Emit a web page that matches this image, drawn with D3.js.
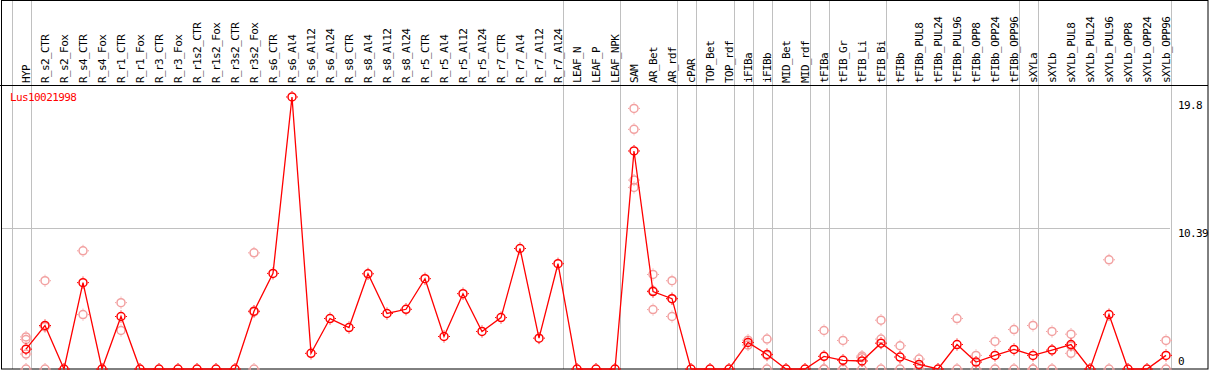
<!DOCTYPE html>
<html><head><meta charset="utf-8">
<script src="https://cdn.jsdelivr.net/npm/d3@7"></script>
<style>body{margin:0;background:#fff}svg{display:block}text{font-family:"DejaVu Sans Mono",monospace;font-size:11px;letter-spacing:-0.6px}</style>
</head><body>
<script>
const title = "Lus10021998";
const categories = ["HYP","R_s2_CTR","R_s2_Fox","R_s4_CTR","R_s4_Fox","R_r1_CTR","R_r1_Fox","R_r3_CTR","R_r3_Fox","R_r1s2_CTR","R_r1s2_Fox","R_r3s2_CTR","R_r3s2_Fox","R_s6_CTR","R_s6_Al4","R_s6_Al12","R_s6_Al24","R_s8_CTR","R_s8_Al4","R_s8_Al12","R_s8_Al24","R_r5_CTR","R_r5_Al4","R_r5_Al12","R_r5_Al24","R_r7_CTR","R_r7_Al4","R_r7_Al12","R_r7_Al24","LEAF_N","LEAF_P","LEAF_NPK","SAM","AR_Bet","AR_rdf","cPAR","TOP_Bet","TOP_rdf","iFIBa","iFIBb","MID_Bet","MID_rdf","tFIBa","tFIB_Gr","tFIB_Li","tFIB_Bi","tFIBb","tFIBb_PUL8","tFIBb_PUL24","tFIBb_PUL96","tFIBb_OPP8","tFIBb_OPP24","tFIBb_OPP96","sXYLa","sXYLb","sXYLb_PUL8","sXYLb_PUL24","sXYLb_PUL96","sXYLb_OPP8","sXYLb_OPP24","sXYLb_OPP96"];
const means = [1.46,3.2,0,6.35,0,3.86,0,0,0,0,0,0,4.25,7.03,20.0,1.15,3.71,3.05,7.0,4.08,4.39,6.64,2.39,5.54,2.76,3.78,8.86,2.27,7.74,0,0,0,16.03,5.69,5.17,0,0,0,1.95,1.07,0,0,0.93,0.64,0.59,1.9,0.88,0.34,0,1.8,0.51,1.0,1.44,1.0,1.39,1.8,0,4.0,0,0,1.0];
const replicates = [[2.36,2.17,1.1,0],[6.49,3.1,0],[],[8.69,4.0],[],[4.88,2.83],[],[],[],[],[],[],[8.54,4.2,0],[],[],[],[],[],[],[],[],[],[],[],[],[],[],[],[],[],[],[],[19.16,17.62,13.89,13.35],[6.95,5.75,4.37],[6.49,5.17,3.86],[],[],[],[2.12,1.76],[2.2,1.0,0],[],[],[2.83,0,0],[2.1,0,0],[0.95,0.83,0],[3.59,2.2,0],[1.71,0],[0.73,0],[],[3.71,0],[1.0,0],[2.03,0],[2.9,0],[3.2,0,0],[2.76,0],[2.56,1.7,1.15],[],[8.03,0],[],[],[2.1,0]];
const yTicks = [0, 10.39, 19.8];
const groupEnds = ["HYP","R_r7_Al24","LEAF_NPK","AR_rdf","cPAR","TOP_rdf","iFIBa","iFIBb","MID_rdf","tFIBa","tFIB_Bi","tFIBb_OPP96","sXYLa","sXYLb_OPP96"];

const W = 1209, H = 370;
const svg = d3.select("body").append("svg").attr("width", W).attr("height", H);
const x = d3.scalePoint().domain(categories).range([26, 1166]);
const y = d3.scaleLinear().domain([0, 19.8]).range([369, 99.7]);
const step = x.step();

// grid lines
svg.append("line").attr("x1", 1).attr("x2", 1170).attr("y1", Math.round(y(10.39)) + 0.5).attr("y2", Math.round(y(10.39)) + 0.5).attr("stroke", "#c0c0c0");
const seps = [x(categories[0]) - step + 5].concat(groupEnds.map(c => x(c) + 5));
svg.selectAll("line.sep").data(seps).join("line").attr("class", "sep")
  .attr("x1", d => Math.round(d) + 0.5).attr("x2", d => Math.round(d) + 0.5)
  .attr("y1", 0).attr("y2", 369).attr("stroke", "#c0c0c0");

// frame
svg.append("rect").attr("x", 1.5).attr("y", 0.5).attr("width", 1206.5).attr("height", 368.5).attr("fill", "none").attr("stroke", "#000");
svg.append("line").attr("x1", 0).attr("x2", 1208).attr("y1", 85.5).attr("y2", 85.5).attr("stroke", "#000");

// category labels
svg.selectAll("text.cat").data(categories).join("text").attr("class", "cat")
  .attr("transform", d => `translate(${x(d) + 4},83) rotate(-90)`)
  .attr("fill", "#000").text(d => d);

// y tick labels
svg.selectAll("text.yt").data(yTicks).join("text").attr("class", "yt")
  .attr("x", 1178).attr("y", d => d === 0 ? y(d) - 4 : y(d) + 9)
  .attr("fill", "#000").text(d => d);

// title
svg.append("text").attr("x", 10).attr("y", 101).attr("fill", "#ff0000").text(title);

function marker(g, cx, cy, color) {
  g.append("circle").attr("cx", cx).attr("cy", cy).attr("r", 4).attr("fill", "none").attr("stroke", color).attr("stroke-width", 1.5);
  const t = [[0,-5,0,-6],[0,5,0,6],[-5,0,-6,0],[5,0,6,0]];
  t.forEach(([a,b,c,d]) => g.append("line").attr("x1", cx + a).attr("y1", cy + b).attr("x2", cx + c).attr("y2", cy + d).attr("stroke", color).attr("stroke-width", 1));
}

// replicates
const rg = svg.append("g");
categories.forEach((c, i) => replicates[i].forEach(v => marker(rg, x(c), y(v), "#f2a0a0")));

// mean line
const line = d3.line().x((d, i) => x(categories[i])).y(d => y(d));
svg.append("path").datum(means).attr("d", line).attr("fill", "none").attr("stroke", "#ff0000").attr("stroke-width", 1.3);

const mg = svg.append("g");
categories.forEach((c, i) => marker(mg, x(c), y(means[i]), "#ff0000"));
</script>
</body></html>
